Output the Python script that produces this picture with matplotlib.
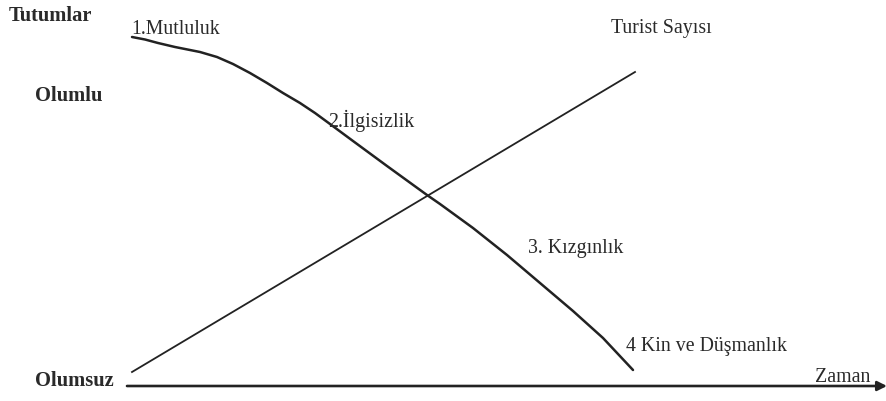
import matplotlib
matplotlib.use("Agg")
import matplotlib.pyplot as plt

# Attitude curve (Doxey irritation index) (x = time, y = attitude; pixel-like scale)
attitude_x = [132, 145, 158, 175, 200, 217, 233, 250, 267, 283, 300, 315, 330, 353, 387, 427, 440, 473, 507, 540, 573, 603, 633]
attitude_y = [37, 39.5, 43, 47, 52, 57, 64, 73, 83, 93, 103, 113, 124, 141, 166, 195, 204, 228, 255, 283, 311, 338, 370]

# Tourist numbers line
tourist_x = [132, 635]
tourist_y = [372, 72]

stage_labels = ["1.Mutluluk", "2.İlgisizlik", "3. Kızgınlık", "4 Kin ve Düşmanlık"]
stage_pos = [(131, 29), (328, 121), (528, 248), (626, 347)]

axis_labels = ["Tutumlar", "Olumlu", "Olumsuz"]
axis_pos = [(9, 16), (35, 96), (35, 381)]

fig = plt.figure(figsize=(8.87, 4.01), dpi=100)
ax = fig.add_axes([0, 0, 1, 1])
ax.set_xlim(0, 887)
ax.set_ylim(401, 0)
ax.axis("off")

ax.plot(attitude_x, attitude_y, color="#222222", lw=1.8, solid_capstyle="round", solid_joinstyle="round")
ax.plot(tourist_x, tourist_y, color="#222222", lw=1.3)

# time axis with arrow
ax.annotate("", xy=(887, 386), xytext=(127, 386),
            arrowprops=dict(arrowstyle="-|>", color="#222222", lw=1.9,
                            mutation_scale=14, shrinkA=0, shrinkB=0))

serif = ["Liberation Serif", "DejaVu Serif"]
for lab, (x, y) in zip(stage_labels, stage_pos):
    ax.text(x, y, lab, fontsize=14.3, family=serif, ha="left", va="center", color="#2a2a2a")

ax.text(611, 29, "Turist Sayısı", fontsize=14.3, family=serif, ha="left", va="center", color="#2a2a2a")
ax.text(815, 377, "Zaman", fontsize=14.3, family=serif, ha="left", va="center", color="#2a2a2a")

for lab, (x, y) in zip(axis_labels, axis_pos):
    ax.text(x, y, lab, fontsize=14.8, family=serif, weight="bold", ha="left", va="center", color="#2a2a2a")

fig.savefig("out.png", dpi=100)
